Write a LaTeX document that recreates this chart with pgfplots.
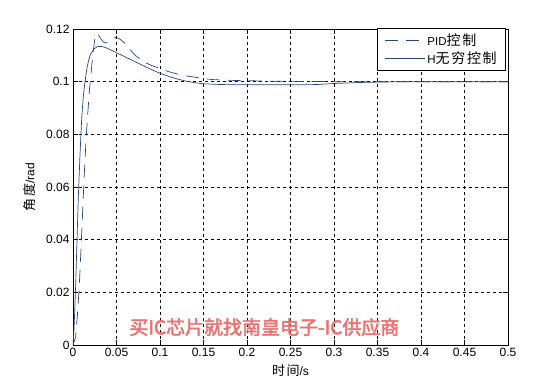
\documentclass[border=0pt]{standalone}
\usepackage{pgfplots}
\pgfplotsset{compat=1.18}
\usepackage{fontspec}
\setmainfont{Liberation Sans}
\newfontfamily\cjk[LetterSpace=12]{Noto Sans CJK SC}
\newfontfamily\cjkb[FakeBold=2.5]{Noto Sans CJK SC}
\definecolor{lineblue}{RGB}{40,70,130}
\definecolor{wm}{RGB}{238,112,112}
\begin{document}
\begin{tikzpicture}
\begin{axis}[
  name=ax,
  scale only axis,
  width=435pt, height=316pt,
  xmin=0, xmax=0.5, ymin=0, ymax=0.12,
  xtick={0,0.05,...,0.5},
  ytick={0,0.02,...,0.12},
  /pgf/number format/fixed,
  /pgf/number format/precision=2,
  /pgf/number format/assume math mode=true,
  tick label style={font=\fontsize{12}{14}\selectfont, color=black},
  tick align=inside,
  major tick length=5pt,
  tick style={black, thin},
  axis line style={black, thin},
  grid=major,
  major grid style={black, dash pattern=on 3pt off 3pt, line width=0.5pt},
  xlabel={{\cjk\fontsize{13}{14}\selectfont 时间}/s},
  ylabel={{\cjk\fontsize{13}{14}\selectfont 角度}/rad},
  label style={font=\fontsize{12}{14}\selectfont},
  xlabel style={at={(axis description cs:0.5,-0.08)}, anchor=center},
  ylabel style={at={(axis description cs:-0.1,0.5)}, anchor=center},
  legend style={at={(1,1)}, anchor=north east, xshift=-2pt, yshift=1pt,
    draw=black, fill=white, line width=0.5pt,
    font=\fontsize{11.5}{14}\selectfont, inner xsep=7pt, inner ysep=3pt,
    row sep=1pt, cells={anchor=west}},
  legend image code/.code={\draw[#1] (0pt,0pt) -- (40pt,0pt);},
  every axis legend/.append style={/tikz/every even column/.style={column sep=0pt}},
]
\addplot[lineblue, line width=0.7pt, dash pattern=on 13pt off 8pt] coordinates {
(0,0) (0.003,0.003) (0.005,0.011) (0.007,0.021) (0.009,0.035) (0.011,0.05)
(0.013,0.065) (0.015,0.078) (0.017,0.088) (0.019,0.097) (0.021,0.104)
(0.023,0.111) (0.025,0.116) (0.027,0.1182) (0.029,0.1178) (0.032,0.1163)
(0.035,0.1150) (0.038,0.1147) (0.041,0.1152) (0.045,0.1163) (0.049,0.1168)
(0.053,0.1164) (0.06,0.1145) (0.07,0.1105) (0.08,0.1077) (0.09,0.1062)
(0.1,0.1050) (0.11,0.1038) (0.12,0.1029) (0.13,0.1022) (0.14,0.1017)
(0.15,0.1012) (0.16,0.1008) (0.18,0.1005) (0.2,0.1004) (0.22,0.1002)
(0.26,0.1001) (0.3,0.1) (0.5,0.1)
};
\addlegendentry{PID{\cjk\fontsize{14}{15}\selectfont 控制}}
\addplot[lineblue, line width=0.7pt] coordinates {
(0,0) (0.001,0.005) (0.002,0.013) (0.003,0.022) (0.004,0.033) (0.006,0.055)
(0.008,0.072) (0.010,0.086) (0.012,0.095) (0.014,0.1005) (0.016,0.1050)
(0.018,0.1082) (0.020,0.1103) (0.024,0.1124) (0.028,0.1133) (0.032,0.1134)
(0.036,0.1131) (0.04,0.1126) (0.05,0.1110) (0.06,0.1094) (0.07,0.1078)
(0.08,0.1062) (0.09,0.1046) (0.1,0.1032) (0.11,0.1020) (0.12,0.1010)
(0.13,0.1002) (0.14,0.0996) (0.15,0.0992) (0.17,0.0989) (0.2,0.0988)
(0.25,0.0988) (0.28,0.0989) (0.3,0.0993) (0.33,0.0997) (0.36,0.0999)
(0.4,0.1) (0.5,0.1)
};
\addlegendentry{H{\cjk\fontsize{14}{15}\selectfont 无穷控制}}
\node[wm, font=\cjkb\fontsize{19}{20}\selectfont] at (axis cs:0.22,0.0068) {买IC芯片就找南皇电子-IC供应商};
\end{axis}
\path ([xshift=-73pt,yshift=-43pt]ax.south west) rectangle ([xshift=28pt,yshift=29pt]ax.north east);
\end{tikzpicture}
\end{document}
